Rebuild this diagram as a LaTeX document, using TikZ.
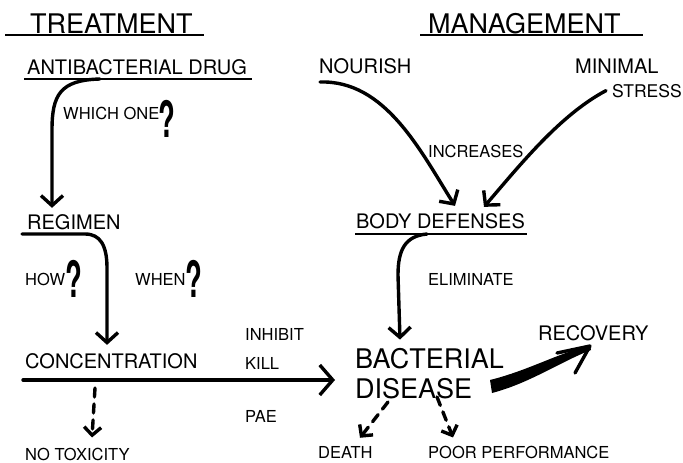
\documentclass[tikz,border=0pt]{standalone}
\usepackage{fontspec}
\setmainfont{TeX Gyre Heros}
\usetikzlibrary{arrows.meta}

\begin{document}
\begin{tikzpicture}[x=1pt,y=-1pt]

\tikzstyle heading=[anchor=base west, inner sep=0pt, font=\fontsize{27}{30}\selectfont]
\tikzstyle item=[anchor=base west, inner sep=0pt, font=\fontsize{20}{24}\selectfont]
\tikzstyle note=[anchor=base west, inner sep=0pt, font=\fontsize{16.5}{19}\selectfont]
\tikzstyle qmark=[anchor=base west, inner sep=0pt, xscale=.55, font=\bfseries\fontsize{50}{50}\selectfont]
\tikzstyle rule=[line width=2.6pt]
\tikzstyle link=[line width=3.4pt, line cap=round, -{Straight Barb[length=10pt,width=22pt]}]
\tikzstyle maybe=[link, dash pattern=on 9pt off 7pt, -{Straight Barb[length=8pt,width=17pt]}]

\useasboundingbox (0,0) rectangle (683,463);

% treatment side
\node (treat) [heading] at (30,33) {TREATMENT};
\node (drug) [item] at (27,74) {ANTIBACTERIAL DRUG};
\node (which) [note] at (63,119) {WHICH ONE};
\node (q1) [qmark] at (158,137) {?};
\node (regimen) [item] at (27,229) {REGIMEN};
\node (how) [note] at (25,285) {HOW};
\node (q2) [qmark] at (65,297) {?};
\node (when) [note] at (135,285) {WHEN};
\node (q3) [qmark] at (185,297) {?};
\node (conc) [item] at (25,368) {CONCENTRATION};
\node (inhibit) [note] at (245,340) {INHIBIT};
\node (kill) [note] at (245,369) {KILL};
\node (pae) [note] at (245,422) {PAE};
\node (notox) [note] at (25,460) {NO TOXICITY};

% management side
\node (manage) [heading] at (428,33) {MANAGEMENT};
\node (nourish) [item] at (319,73) {NOURISH};
\node (minimal) [item] at (575,73) {MINIMAL};
\node (stress) [item, font=\fontsize{17.5}{20}\selectfont] at (612,97) {STRESS};
\node (incr) [note] at (428,157) {INCREASES};
\node (body) [item] at (356,228) {BODY DEFENSES};
\node (elim) [note] at (428,285) {ELIMINATE};
\node (bact) [heading] at (355,368) {BACTERIAL};
\node (dis) [heading] at (355,398) {DISEASE};
\node (recov) [item] at (538,340) {RECOVERY};
\node (death) [note] at (318,458) {DEATH};
\node (poor) [note] at (428,458) {POOR PERFORMANCE};

% underlines
\draw [rule] (5,35) -- (204,35);
\draw [rule] (420,35) -- (643,35);
\draw [rule] (24,79) -- (252,79);
\draw [rule] (355,234) -- (527,234);

\coordinate (drugout) at (100,79);
\coordinate (regin) at (22,234);
\coordinate (concin) at (23,380);
\coordinate (hit) at (335,380);
\coordinate (bodyout) at (427,234);

\draw [link] (drugout) .. controls (60,80) and (52,95) .. (52,130) -- ([xshift=25pt,yshift=6pt]regimen.north west);
\draw [link] (regin) -- (85,234) .. controls (100,234) and (107,245) .. (107,268) -- ([xshift=82pt,yshift=8pt]conc.north west);
\draw [link, -{Straight Barb[length=13pt,width=30pt]}] (concin) -- (hit);
\draw [maybe] (95,388) -- ([xshift=67pt,yshift=10pt]notox.north west);

\draw [link] ([xshift=1pt,yshift=-9pt]nourish.base west) .. controls (385,80) and (420,150) .. ([xshift=99pt,yshift=7pt]body.north west);
\draw [link] ([xshift=-6pt]stress.west) .. controls (560,115) and (520,165) .. ([xshift=128pt,yshift=6pt]body.north west);
\draw [link] (bodyout) .. controls (405,236) and (398,250) .. (398,275) -- ([xshift=45pt,yshift=8pt]bact.north west);

% recovery
\coordinate (wtop) at (490,380);
\coordinate (wbot) at (492,393);
\coordinate (wtip) at (590,346);
\fill (wtop) .. controls (530,370) and (560,352) .. (wtip) -- (591,350) .. controls (560,362) and (530,383) .. (wbot) -- cycle;
\draw [line width=3.4pt, line cap=round, line join=round] (557,353) -- (wtip) -- (575,373);

\draw [maybe] (388,402) -- ([xshift=42pt,yshift=8pt]death.north west);
\draw [maybe] (437,397) -- ([xshift=25pt,yshift=8pt]poor.north west);

\end{tikzpicture}
\end{document}
